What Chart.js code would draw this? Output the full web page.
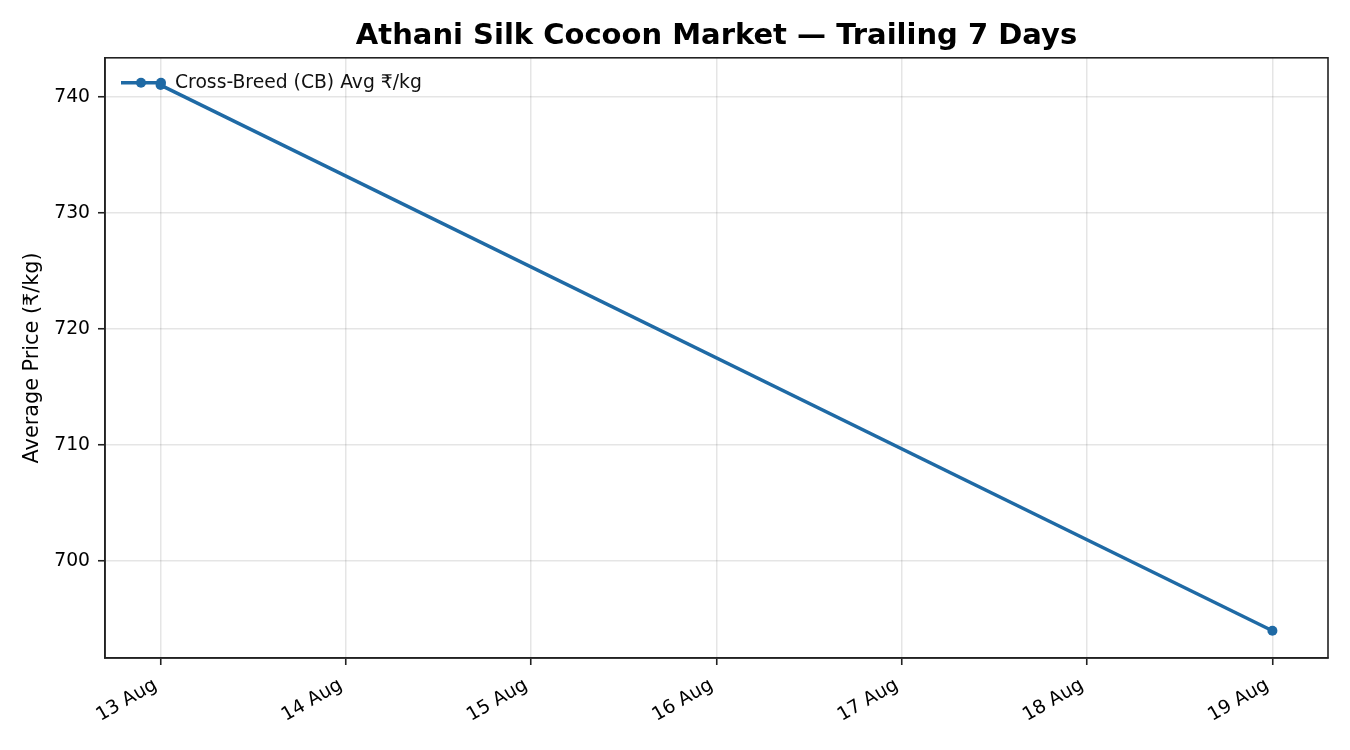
<!DOCTYPE html>
<html>
<head>
<meta charset="utf-8">
<title>Athani Silk Cocoon Market</title>
<script src="https://cdn.jsdelivr.net/npm/chart.js@4.4.1/dist/chart.umd.min.js"></script>
<style>
  html, body { margin: 0; padding: 0; background: #ffffff; }
  #wrap { width: 1350px; height: 750px; }
</style>
</head>
<body>
<div id="wrap"><canvas id="marketChart" width="1350" height="750"></canvas></div>
<script>
// ---- data ----
const dayNumbers = [13, 19];              // August day of each observation
const cbAvgPrices = [741, 694];           // Cross-Breed (CB) average, ₹/kg
const xTickDays = [13, 14, 15, 16, 17, 18, 19];
const xTickLabels = ['13 Aug', '14 Aug', '15 Aug', '16 Aug', '17 Aug', '18 Aug', '19 Aug'];
const yTickValues = [700, 710, 720, 730, 740];

const seriesLabel = 'Cross-Breed (CB) Avg ₹/kg';
const lineColor = '#1f6aa5';
const FONT = '"DejaVu Sans", sans-serif';

// matplotlib-like 5% margins around the data
const xPad = (Math.max(...dayNumbers) - Math.min(...dayNumbers)) * 0.05;
const yPad = (Math.max(...cbAvgPrices) - Math.min(...cbAvgPrices)) * 0.05;

/**
 * Frame around the plot area plus an in-axes legend (top-left)
 */
const frameAndLegend = {
  id: 'frameAndLegend',
  afterDraw(chart) {
    const ctx = chart.ctx;
    const a = chart.chartArea;
    ctx.save();
    ctx.strokeStyle = '#222222';
    ctx.lineWidth = 1.6;
    ctx.strokeRect(a.left, a.top, a.right - a.left, a.bottom - a.top);

    // legend sample
    const y = a.top + 25;
    const x0 = a.left + 16;
    ctx.strokeStyle = lineColor;
    ctx.lineWidth = 3.5;
    ctx.beginPath();
    ctx.moveTo(x0, y);
    ctx.lineTo(x0 + 40, y);
    ctx.stroke();
    ctx.fillStyle = lineColor;
    [x0 + 20, x0 + 40].forEach(cx => {
      ctx.beginPath();
      ctx.arc(cx, y, 5, 0, Math.PI * 2);
      ctx.fill();
    });
    ctx.fillStyle = '#111111';
    ctx.font = '18.75px ' + FONT;
    ctx.textAlign = 'left';
    ctx.textBaseline = 'middle';
    ctx.fillText(seriesLabel, x0 + 54, y);
    ctx.restore();
  }
};

const ctx = document.getElementById('marketChart').getContext('2d');

window.marketChart = new Chart(ctx, {
  type: 'line',
  data: {
    datasets: [
      {
        label: seriesLabel,
        data: dayNumbers.map((d, i) => ({ x: d, y: cbAvgPrices[i] })),
        borderColor: lineColor,
        backgroundColor: lineColor,
        borderWidth: 3.5,
        pointRadius: 5,
        pointHoverRadius: 5,
        pointBackgroundColor: lineColor,
        pointBorderWidth: 0,
        tension: 0,
        fill: false
      }
    ]
  },
  options: {
    responsive: false,
    animation: false,
    devicePixelRatio: 1,
    layout: {
      padding: { left: 0, right: 22, top: 0, bottom: 0 }
    },
    plugins: {
      legend: { display: false },
      tooltip: { enabled: false },
      title: {
        display: true,
        fullSize: false,
        text: 'Athani Silk Cocoon Market — Trailing 7 Days',
        color: '#000000',
        font: { family: FONT, size: 29, weight: 'bold', lineHeight: 1.2 },
        padding: { top: 19, bottom: 4 }
      }
    },
    scales: {
      x: {
        type: 'linear',
        min: Math.min(...dayNumbers) - xPad,
        max: Math.max(...dayNumbers) + xPad,
        afterBuildTicks: (scale) => {
          scale.ticks = xTickDays.map(v => ({ value: v }));
        },
        afterFit: (scale) => { scale.height = 92; },
        ticks: {
          autoSkip: false,
          minRotation: 30,
          maxRotation: 30,
          padding: 9,
          labelOffset: -5,
          color: '#000000',
          font: { family: FONT, size: 18.75 },
          callback: (value) => {
            const i = xTickDays.indexOf(value);
            return i >= 0 ? xTickLabels[i] : '';
          }
        },
        grid: {
          color: 'rgba(0, 0, 0, 0.1)',
          lineWidth: 1.5,
          drawTicks: true,
          tickLength: 7,
          tickColor: '#222222',
          tickWidth: 1.6
        },
        border: { display: true, color: '#222222', width: 1.6 }
      },
      y: {
        type: 'linear',
        min: Math.min(...cbAvgPrices) - yPad,
        max: Math.max(...cbAvgPrices) + yPad,
        afterBuildTicks: (scale) => {
          scale.ticks = yTickValues.map(v => ({ value: v }));
        },
        afterFit: (scale) => { scale.width = 105; },
        ticks: {
          padding: 8,
          color: '#000000',
          font: { family: FONT, size: 18.75 }
        },
        grid: {
          color: 'rgba(0, 0, 0, 0.1)',
          lineWidth: 1.5,
          drawTicks: true,
          tickLength: 7,
          tickColor: '#222222',
          tickWidth: 1.6
        },
        border: { display: true, color: '#222222', width: 1.6 },
        title: {
          display: true,
          text: 'Average Price (₹/kg)',
          color: '#000000',
          font: { family: FONT, size: 20.8, lineHeight: 1.2 },
          padding: { top: 20, bottom: 0 }
        }
      }
    }
  },
  plugins: [frameAndLegend]
});
</script>
</body>
</html>
